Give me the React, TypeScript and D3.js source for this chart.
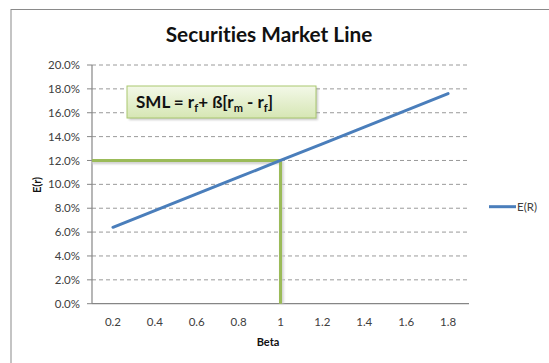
import React from "react";
import * as d3 from "d3";

// Security Market Line: E(R) = rf + beta * (rm - rf)
const betas: string[] = ["0.2", "0.4", "0.6", "0.8", "1", "1.2", "1.4", "1.6", "1.8"];
const expectedReturn: number[] = [0.064, 0.078, 0.092, 0.106, 0.12, 0.134, 0.148, 0.162, 0.176];
const yTicks: number[] = [0, 0.02, 0.04, 0.06, 0.08, 0.1, 0.12, 0.14, 0.16, 0.18, 0.2];
const markerBeta = "1";
const markerReturn = 0.12;
const seriesName = "E(R)";

const W = 549;
const H = 363;
const FONT = "Lato, 'Open Sans', sans-serif";

export default function App() {
  const left = 92;
  const right = 469;
  const top = 65;
  const bottom = 303.7;

  const x = d3.scaleBand<string>().domain(betas).range([left, right]);
  const y = d3.scaleLinear().domain([0, 0.2]).range([bottom, top]);
  const cx = (b: string) => (x(b) as number) + x.bandwidth() / 2;

  const line = d3
    .line<number>()
    .x((_, i) => cx(betas[i]))
    .y((d) => y(d));

  const fmt = d3.format(".1%");
  const mx = cx(markerBeta);
  const my = y(markerReturn);

  return (
    <svg
      width={W}
      height={H}
      style={{
        position: "absolute",
        left: 0,
        top: 0,
        background: "#fff",
        fontVariantLigatures: "none",
      }}
      fontFamily={FONT}
    >
      <defs>
        <linearGradient id="boxFill" x1="0" y1="0" x2="0" y2="1">
          <stop offset="0" stopColor="#f3f8e8" />
          <stop offset="1" stopColor="#d6e6b4" />
        </linearGradient>
        <filter id="soft" x="-10%" y="-20%" width="130%" height="160%">
          <feGaussianBlur stdDeviation="1.2" />
        </filter>
      </defs>

      {/* chart frame */}
      <rect x={11} y={9.5} width={560} height={380} fill="#fff" stroke="#8a8a8a" strokeWidth={1} />

      <text x={269} y={42} textAnchor="middle" fontSize={20.8} fontWeight="bold" fill="#111">
        Securities Market Line
      </text>

      {/* grid lines and y ticks */}
      {yTicks.map((t) => (
        <g key={t}>
          {t > 0 && (
            <line
              x1={left}
              x2={right}
              y1={y(t)}
              y2={y(t)}
              stroke="#9a9a9a"
              strokeWidth={1}
              strokeDasharray="4,3"
            />
          )}
          <line x1={left - 5} x2={left} y1={y(t)} y2={y(t)} stroke="#868686" />
          <text
            x={left - 12}
            y={y(t)}
            dy="0.35em"
            textAnchor="end"
            fontSize={11.5}
            fill="#404040"
          >
            {fmt(t)}
          </text>
        </g>
      ))}

      {/* axes */}
      <line x1={left} x2={left} y1={top} y2={bottom} stroke="#868686" strokeWidth={1.2} />
      <line x1={left} x2={right} y1={bottom} y2={bottom} stroke="#868686" strokeWidth={1.2} />

      {betas.map((b) => (
        <text key={b} x={cx(b)} y={322} dy="0.35em" textAnchor="middle" fontSize={11.5} fill="#404040">
          {b}
        </text>
      ))}

      <text x={268} y={346} textAnchor="middle" fontSize={11} fontWeight="bold" fill="#111">
        Beta
      </text>
      <text
        transform={`translate(41,185) rotate(-90)`}
        textAnchor="middle"
        fontSize={11}
        fontWeight="bold"
        fill="#111"
      >
        E(r)
      </text>

      {/* marker lines at beta = 1 */}
      <path
        d={`M${left},${my + 2} H${mx + 1.5} V${bottom}`}
        fill="none"
        stroke="#cccccc"
        strokeWidth={3}
        filter="url(#soft)"
      />
      <path
        d={`M${left},${my} H${mx} V${bottom}`}
        fill="none"
        stroke="#9bbb59"
        strokeWidth={3}
      />

      {/* SML series */}
      <path
        d={line(expectedReturn) || ""}
        fill="none"
        stroke="#4a7ebb"
        strokeWidth={3}
        strokeLinecap="round"
      />

      {/* formula box */}
      <rect x={129} y={88} width={189} height={32} fill="#999" opacity={0.5} filter="url(#soft)" />
      <rect x={127} y={86} width={189} height={32} fill="url(#boxFill)" stroke="#a9c76f" strokeWidth={1} />
      <text x={136} y={108} fontSize={17} fontWeight="bold" fill="#111">
        SML = r
        <tspan fontSize={11} dy={4}>f</tspan>
        <tspan dy={-4}>+ ß[r</tspan>
        <tspan fontSize={11} dy={4}>m</tspan>
        <tspan dy={-4}> - r</tspan>
        <tspan fontSize={11} dy={4}>f</tspan>
        <tspan dy={-4}>]</tspan>
      </text>

      {/* legend */}
      <line x1={489} x2={516} y1={206.7} y2={206.7} stroke="#4a7ebb" strokeWidth={3} />
      <text x={517} y={206.7} dy="0.35em" fontSize={11.5} fill="#404040">
        {seriesName}
      </text>
    </svg>
  );
}
